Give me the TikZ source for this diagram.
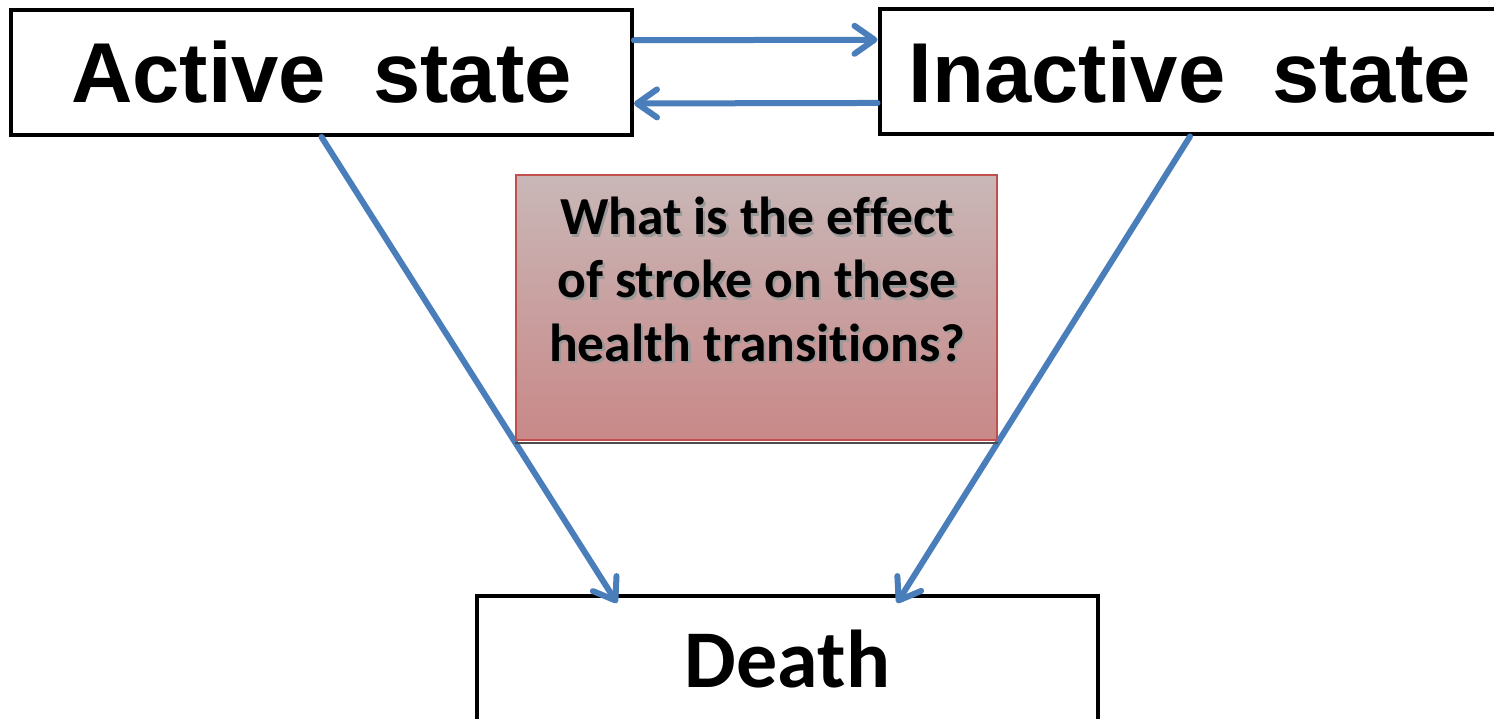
\documentclass[tikz,border=0pt]{standalone}
\usepackage{fontspec}
\setmainfont{Liberation Sans}
\newfontfamily\carlito[Ligatures={NoCommon,NoContextual}]{Carlito}
\usetikzlibrary{arrows.meta,shadings,calc}
\definecolor{arrblue}{RGB}{74,126,187}
\definecolor{qtop}{RGB}{201,183,183}
\definecolor{qbot}{RGB}{201,136,136}
\definecolor{qborder}{RGB}{192,80,77}
\newcommand\shtext[1]{\rlap{\kern2.2pt\raisebox{-2.2pt}{\textcolor{black!40}{#1}}}#1}
\tikzset{
  statebox/.style={draw, line width=4pt, minimum width=621pt, minimum height=125pt, inner sep=0pt,
    font=\fontsize{85}{100}\selectfont\bfseries},
  deathbox/.style={draw, line width=4pt, minimum width=621pt, minimum height=126pt, inner sep=0pt,
    font=\carlito\fontsize{82}{98}\selectfont\bfseries},
  qbox/.style={draw=qborder, line width=1.5pt, minimum width=481pt, minimum height=265pt, inner sep=0pt,
    top color=qtop, bottom color=qbot},
  qline/.style={anchor=base, inner sep=0pt, font=\carlito\fontsize{53.5}{63}\selectfont\bfseries},
  arr/.style={draw=arrblue, line width=6pt, line cap=round, line join=round,
    -{Straight Barb[length=20pt,width=28pt,line cap=round,line join=round]}}
}
\begin{document}
\begin{tikzpicture}[x=1pt,y=-1pt]
\clip (0,0) rectangle (1494,719);
\fill[white] (0,0) rectangle (1494,719);

\node[statebox] (act) at (321.5,72.5) {Active\ \ state};
\node[statebox] (ina) at (1190,72) {Inactive\ \ state};
\node[deathbox] (death) at (787.5,659) {Death};

\coordinate (tipL) at (617,603);
\coordinate (tipR) at (897,603);

\draw[arr] ($(act.north east)!0.25!(act.south east)$) -- ($(ina.north west)!0.25!(ina.south west)$);
\draw[arr] ($(ina.north west)!0.74!(ina.south west)$) -- ($(act.north east)!0.74!(act.south east)$);
\draw[arr] (act.south) -- (tipL);
\draw[arr] (ina.south) -- (tipR);

\node[qbox] (q) at (756.5,307.5) {};
\draw[black!70, line width=2.5pt] ([yshift=-2pt]q.south west) -- ([yshift=-2pt]q.south east);
\node[qline] (q1) at (757,235) {\shtext{What is the ef\kern0pt fect}};
\node[qline] (q2) at (757,298) {\shtext{of stroke on these}};
\node[qline] (q3) at (757,361) {\shtext{health transit\kern0pt ions?}};
\end{tikzpicture}
\end{document}
